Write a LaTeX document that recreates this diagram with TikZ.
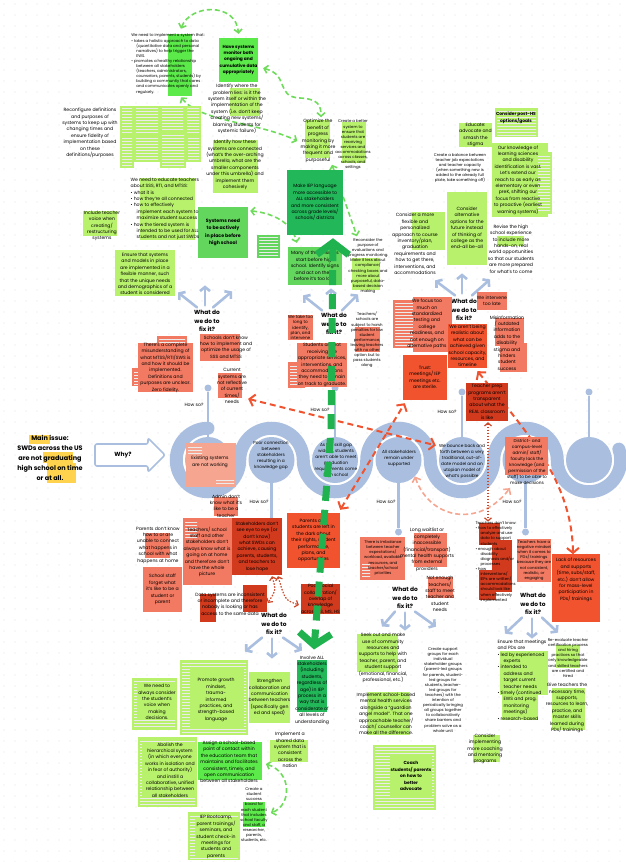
\documentclass[tikz,border=0pt]{standalone}
\usepackage{fontspec}
\setmainfont{Poppins}
\usetikzlibrary{arrows.meta,calc,patterns}

\definecolor{cLeaf}{HTML}{B8F26C}
\definecolor{cLime}{HTML}{5CE94A}
\definecolor{cMoss}{HTML}{63D65E}
\definecolor{cPine}{HTML}{22B85A}
\definecolor{cSalmon}{HTML}{F27A62}
\definecolor{cCoral}{HTML}{F1532F}
\definecolor{cBrick}{HTML}{D23A1E}
\definecolor{cBlush}{HTML}{F5A590}
\definecolor{cBand}{HTML}{AABFDF}
\definecolor{cSun}{HTML}{FFD34D}
\definecolor{cDashG}{HTML}{6EDC5A}
\definecolor{cBigG}{HTML}{1FB24E}
\definecolor{cDashR}{HTML}{F0532F}
\definecolor{cDot}{HTML}{E2E2E2}

\newcommand\tinyf{\fontsize{3.9}{5.1}\selectfont}
\newcommand\notef{\fontsize{4.6}{6.4}\selectfont}
\newcommand\headf{\fontsize{4.4}{6.4}\selectfont\bfseries}
\newcommand\fixf{\fontsize{5.9}{8.2}\selectfont\bfseries}
\newcommand\mainf{\fontsize{6.5}{10}\selectfont\bfseries}

\pgfdeclarelayer{bg}
\pgfdeclarelayer{links}
\pgfdeclarelayer{front}
\pgfsetlayers{bg,links,main,front}

\def\patch#1#2#3#4#5{
  % 1: colour
  % 2,3: left, top
  % 4,5: right, bottom
  \fill[#1] (#2,#3) rectangle (#4,#5);
}
\def\scrap#1#2#3#4#5{
  % same as \patch, for notes too small to read
  \fill[#1] (#2,#3) rectangle (#4,#5);
  \fill[pattern=horizontal lines, pattern color=black!8] ($(#2,#3)+(2,2)$) rectangle ($(#4,#5)+(-2,-2)$);
}
\def\bul{\textbullet\ }

\begin{document}
\begin{tikzpicture}[x=1pt,y=-1pt,
    note/.style={fill=#1, inner sep=0pt, align=center, font=\notef},
    txt/.style={inner sep=0pt, align=center, font=\notef},
    mini/.style={inner sep=0pt, align=center, font=\tinyf},
    fixit/.style={inner sep=0pt, align=center, font=\fixf},
    howso/.style={inner sep=0pt, font=\notef},
    hub/.style={circle, fill=cBand, minimum size=46pt, inner sep=0pt},
    knob/.style={circle, fill=cBand, minimum size=7pt, inner sep=0pt},
    stem/.style={draw=cBand, line width=2.8pt},
    fan/.style={draw=cBand, line width=2.6pt, line cap=round, -{Straight Barb[length=4pt,width=10pt]}},
    gdash/.style={draw=cDashG, line width=1.6pt, dash pattern=on 5pt off 3pt,
      {Straight Barb[length=3.5pt,width=8pt]}-{Straight Barb[length=3.5pt,width=8pt]}},
    rdash/.style={draw=cDashR, line width=2pt, dash pattern=on 6pt off 4pt,
      {Straight Barb[length=5pt,width=12pt]}-{Straight Barb[length=5pt,width=12pt]}},
    pdash/.style={draw=cBlush, line width=1.6pt, dash pattern=on 5pt off 3pt,
      {Straight Barb[length=4pt,width=9pt]}-{Straight Barb[length=4pt,width=9pt]}},
    rdot/.style={draw=cDashR!85!black, line width=1.2pt, dash pattern=on 1.5pt off 1.5pt,
      {Straight Barb[length=3pt,width=7pt]}-{Straight Barb[length=3pt,width=7pt]}},
    bigdash/.style={draw=cBigG, line width=7pt, dash pattern=on 15pt off 9pt,
      {Straight Barb[length=12pt,width=32pt]}-{Straight Barb[length=12pt,width=32pt]}}
  ]
  \useasboundingbox (0,0) rectangle (625,862);
  \begin{pgfonlayer}{bg}
  \fill[white] (0,0) rectangle (625,862);
  \foreach \gx in {4,15,...,625}{\foreach \gy in {4,15,...,862}{\fill[cDot] (\gx,\gy) circle (0.55);}}

  % the snake and its stops
  \draw[cBand, line width=13pt, line cap=round]
    (208,428.25) arc[start angle=270, end angle=0, radius=31.75]
    arc[start angle=180, end angle=360, radius=31.75]
    arc[start angle=180, end angle=0, radius=31.75]
    arc[start angle=180, end angle=360, radius=31.75]
    arc[start angle=180, end angle=0, radius=31.75]
    arc[start angle=180, end angle=360, radius=31.75]
    arc[start angle=180, end angle=-20, radius=31.75];
  \foreach \n/\cx in {1/208,2/271.5,3/335,4/398.5,5/462,6/525.5,7/589}
    \node[hub] (C\n) at (\cx,460) {};

  \node[knob] (k1) at (208,388) {};   \draw[stem] (C1) -- (k1);
  \node[knob] (k3) at (335,388) {};   \draw[stem] (C3) -- (k3);
  \node[knob] (k5) at (462,392) {};   \draw[stem] (C5) -- (k5);
  \node[knob] (k7) at (589,392) {};   \draw[stem] (C7) -- (k7);
  \node[knob] (k2) at (271.5,533) {}; \draw[stem] (C2) -- (k2);
  \node[knob] (k4) at (398.5,532) {}; \draw[stem] (C4) -- (k4);
  \node[knob] (k6) at (525.5,532) {}; \draw[stem] (C6) -- (k6);
  \end{pgfonlayer}

  \node[howso] (hs1) at (194,405) {How so?};
  \node[howso] (hs3) at (320,410) {How so?};
  \node[howso] (hs5) at (447,412) {How so?};
  \node[howso] (hs2) at (259,502) {How so?};
  \node[howso] (hs4) at (386,502) {How so?};
  \node[howso] (hs6) at (512,502) {How so?};

  % what do we do to fix it?
  \node[fixit] (fix1) at (207,321) {What do\\we do to\\fix it?};
  \node[fixit] (fix2) at (334,324) {What do\\we do to\\fix it?};
  \node[fixit] (fix3) at (464,310) {What do\\we do to\\fix it?};
  \node[fixit] (fix4) at (274,624) {What do\\we do to\\fix it?};
  \node[fixit] (fix5) at (405,598) {What do\\we do to\\fix it?};
  \node[fixit] (fix6) at (533,604) {What do\\we do to\\fix it?};
  \draw[fan] ($(fix1.north)+(-10,-3)$) -- ++(-19,-15);
  \draw[fan] ($(fix1.north)+(-2,-5)$) -- ++(0,-20);
  \draw[fan] ($(fix1.north)+(6,-3)$) -- ++(19,-16);
  \draw[fan] ($(fix2.north)+(-12,-3)$) -- ++(-19,-15);
  \draw[fan] ($(fix2.north)+(-3,-5)$) -- ++(0,-20);
  \draw[fan] ($(fix2.north)+(8,-3)$) -- ++(16,-16);
  \draw[fan] ($(fix3.north)+(-9,-4)$) -- ++(-20,-15);
  \draw[fan] ($(fix3.north)+(-2,-6)$) -- ++(0,-20);
  \draw[fan] ($(fix3.north)+(8,-4)$) -- ++(18,-16);
  \draw[fan] ($(fix4.south)+(-12,3)$) -- ++(-17,14);
  \draw[fan] ($(fix4.south)+(-2,4)$) -- ++(0,20);
  \draw[fan] ($(fix4.south)+(9,3)$) -- ++(19,13);
  \draw[fan] ($(fix5.south)+(-10,3)$) -- ++(-13,15);
  \draw[fan] ($(fix5.south)+(0,4)$) -- ++(0,18);
  \draw[fan] ($(fix5.south)+(10,3)$) -- ++(21,15);
  \draw[fan] ($(fix6.south)+(-11,3)$) -- ++(-17,16);
  \draw[fan] ($(fix6.south)+(-1,4)$) -- ++(0,20);
  \draw[fan] ($(fix6.south)+(9,3)$) -- ++(16,15);

  % main issue
  \patch{cSun}{29}{435}{50}{444}
  \patch{cSun}{43}{452}{73}{463}
  \patch{cSun}{47}{463}{76}{483}
  \node[inner sep=0pt, align=center, font=\mainf] (mainissue) at (50,458)
    {Main issue:\\SWDs across the US\\are not graduating\\high school on time\\or at all.};
  \draw[cBand, line width=1.6pt, fill=white, rounded corners=2pt]
    (95,444) -- (148,444) -- (148,438) -- (165,455) -- (148,472) -- (148,466) -- (95,466) -- cycle;
  \node[font=\fixf, inner sep=0pt] (why) at (123,455) {Why?};

  % top: green solution notes
  \patch{cLime}{168}{34}{192}{96}
  \node[mini, align=left] (sysT1) at (168,64)
    {We need to implement a system that:\\
     \bul takes a holistic approach to data\\
     \hspace*{5pt}(quantitative data and personal\\
     \hspace*{5pt}narratives) to help trigger the\\
     \hspace*{5pt}EWS.\\
     \bul promotes a healthy relationship\\
     \hspace*{5pt}between all stakeholders\\
     \hspace*{5pt}(teachers, administrators,\\
     \hspace*{5pt}counselors, parents, students) by\\
     \hspace*{5pt}building a community that cares\\
     \hspace*{5pt}and communicates openly and\\
     \hspace*{5pt}regularly.};
  \node[note=cLime, font=\headf, minimum width=39pt, minimum height=44pt] (monitor) at (238.5,60)
    {Have systems\\monitor both\\ongoing and\\cumulative data\\appropriately};
  \patch{cLeaf}{230}{88}{260}{116}
  \node[txt] (rootcause) at (237,109)
    {Identify where the\\problem lies: is it the\\system itself or within the\\implementation of the\\system (i.e. don't keep\\creating new systems/\\blaming students for\\systemic failure)};
  \patch{cLeaf}{213}{140}{258}{193}
  \node[txt] (umbrella) at (235,165)
    {Identify how these\\systems are connected\\(what's the over-arching\\umbrella, what are the\\smaller components\\under this umbrella) and\\implement them\\cohesively};
  \patch{cLeaf}{305}{120}{330}{158}
  \node[txt] (optim) at (318,141)
    {Optimize the\\benefit of\\progress\\monitoring by\\making it more\\frequent and\\purposeful};
  \patch{cLeaf}{342}{122}{366}{163}
  \node[mini] (services) at (353,145)
    {Create a better\\system to\\ensure that\\students are\\receiving\\services and\\accommodations\\across classes,\\schools, and\\settings};
  \node[note=cPine, minimum width=56pt, minimum height=65pt] (iep) at (315,202.5)
    {Make IEP language\\more accessible to\\ALL stakeholders\\and more consistent\\across grade levels/\\schools/ districts};
  \node[note=cMoss, font=\fontsize{4.7}{7.3}\selectfont\bfseries, minimum width=50pt, minimum height=51pt] (actively) at (223,232.5)
    {Systems need\\to be actively\\in place before\\high school};
  \scrap{cMoss}{257}{235}{280}{258}
  \node[note=cMoss, minimum width=54pt, minimum height=38pt] (early) at (315,266)
    {Many of these issues\\start before high\\school. Identify signs\\and act on them\\before it's too late.};
  \patch{cLeaf}{352}{258}{380}{290}
  \node[mini] (reconsider) at (368,266)
    {Reconsider the\\purpose of\\evaluations and\\progress monitoring.\\Make it less about\\compliance/\\checking boxes and\\more about\\purposeful, data-\\based decision\\making};

  \node[txt] (redefine) at (90,133)
    {Reconfigure definitions\\and purposes of\\systems to keep up with\\changing times and\\ensure fidelity of\\implementation based\\on these\\definitions/purposes};
  \scrap{cLeaf}{120}{106}{134}{136}
  \scrap{cLeaf}{134}{106}{160}{134}
  \scrap{cLeaf}{160}{106}{185}{131}
  \scrap{cLeaf}{185}{106}{201}{136}
  \scrap{cLeaf}{120}{136}{134}{168}
  \scrap{cLeaf}{134}{134}{160}{162}
  \scrap{cLeaf}{160}{131}{186}{168}
  \scrap{cLeaf}{186}{136}{201}{162}
  \patch{cLeaf}{140}{178}{195}{240}
  \node[txt, align=left] (educate) at (165,209)
    {We need to educate teachers\\about SSS, RTI, and MTSS:\\
     \bul what it is\\
     \bul how they're all connected\\
     \bul how to effectively\\
     \hspace*{6pt}implement each system to\\
     \hspace*{6pt}maximize student success\\
     \bul how the tiered system is\\
     \hspace*{6pt}intended to be used for ALL\\
     \hspace*{6pt}students and not just SWDs};
  \patch{cLeaf}{83}{211}{117}{236}
  \node[txt] (voice) at (102,226) {Include teacher\\voice when\\creating/\\restructuring\\systems};
  \patch{cLeaf}{115}{250}{175}{296}
  \node[txt] (flexible) at (145,274)
    {Ensure that systems\\and models in place\\are implemented in a\\flexible manner, such\\that the unique needs\\and demographics of a\\student is considered};

  \scrap{cLeaf}{495}{108}{538}{137}
  \node[txt, font=\headf] (posths) at (516,118) {Consider post-HS\\options/goals};
  \node[note=cLeaf, minimum width=31pt, minimum height=24pt] (stigma) at (475.5,135)
    {Educate:\\advocate and\\smash the\\stigma};
  \patch{cLeaf}{492}{143}{548}{217}
  \scrap{cLeaf}{536}{152}{552}{214}
  \node[txt] (sciences) at (518,180)
    {Our knowledge of\\learning sciences\\and disability\\identification is vast.\\Let's extend our\\reach to as early as\\elementary or even\\preK, shifting our\\focus from reactive\\to proactive (earliest\\warning systems)};
  \node[mini] (balance) at (460,168)
    {Create a balance between\\teacher job expectations\\and teacher capacity\\(when something new is\\added to the already full\\plate, take something off)};
  \patch{cLeaf}{447}{192}{487}{265}
  \node[txt] (altpaths) at (467,228)
    {Consider\\alternative\\options for the\\future instead\\of thinking of\\college as the\\end-all be-all};
  \patch{cLeaf}{412}{212}{445}{250}
  \node[txt] (course) at (415,244)
    {Consider a more\\flexible and\\personalized\\approach to course\\inventory/plan,\\graduation\\requirements and\\how to get there,\\interventions, and\\accommodations};
  \patch{cLeaf}{497}{236}{524}{246}
  \node[txt] (handson) at (511,249)
    {Revise the high\\school experience\\to include more\\hands-on, real\\world opportunities\\so that our students\\are more prepared\\for what's to come};

  % red problem notes
  \scrap{cSalmon}{157}{336}{187}{346}
  \scrap{cSalmon}{132}{368}{148}{386}
  \node[note=cSalmon, minimum width=55pt, minimum height=49pt] (misread) at (165.5,367.5)
    {There's a complete\\misunderstanding of\\what MTSS/RTI/SWS is\\and how it should be\\implemented.\\Definitions and\\purposes are unclear.\\Zero fidelity.};
  \patch{cSalmon}{200}{334}{240}{361}
  \node[txt] (howto) at (226,347) {Schools don't know\\how to implement and\\optimize the usage of\\SSS and MTSS};
  \patch{cSalmon}{218}{373}{242}{398}
  \node[txt] (current) at (232,386) {Current\\systems are\\not reflective\\of current\\times/\\needs};
  \node[note=cSalmon, font=\fontsize{4.2}{5.2}\selectfont, minimum width=25pt, minimum height=25pt] (toolong) at (300.5,327.5)
    {We take too\\long to\\identify,\\plan, and\\intervene};
  \scrap{cSalmon}{288}{362}{305}{388}
  \node[note=cSalmon, minimum width=50pt, minimum height=38pt] (notreceiving) at (322,365)
    {Students are not\\receiving the\\appropriate services,\\interventions, and\\accommodations\\they need to remain\\on track to graduate.};
  \patch{cSalmon}{355}{327}{380}{352}
  \node[mini] (penalties) at (367,340)
    {Teachers/\\schools are\\subject to harsh\\penalties for low\\student\\performance,\\leaving teachers\\with no other\\option but to\\pass students\\along};
  \scrap{cSalmon}{393}{300}{415}{348}
  \patch{cSalmon}{413}{297}{452}{352}
  \node[txt] (testing) at (427,324)
    {We focus too\\much on\\standardized\\testing and\\college\\readiness, and\\not enough on\\alternative paths};
  \node[note=cCoral, minimum width=44pt, minimum height=45pt] (sterile) at (425,377.5)
    {Trust:\\meetings/ IEP\\meetings etc.\\are sterile.};
  \node[note=cSalmon, minimum width=27pt, minimum height=18pt] (toolate) at (492,301)
    {We intervene\\too late};
  \node[note=cCoral, minimum width=39pt, minimum height=44pt] (realistic) at (467.5,346)
    {We aren't being\\realistic about\\what can be\\achieved given\\school capacity,\\resources, and\\timeline};
  \patch{cSalmon}{495}{318}{524}{346}
  \patch{cSalmon}{500}{343}{527}{372}
  \node[txt] (misinfo) at (507,343)
    {Misinformation\\/ outdated\\information\\adds to the\\disability\\stigma and\\hinders\\student\\success};

  % the stops' own texts
  \patch{cBlush}{186}{443}{236}{487}
  \scrap{cBlush}{186}{443}{204}{455}
  \scrap{cBlush}{214}{476}{236}{487}
  \node[txt] (existing) at (210,462) {Existing systems\\are not working};
  \node[txt, font=\fontsize{4.3}{6}\selectfont] (gap) at (271,455)
    {Poor connection\\between\\stakeholders\\resulting in a\\knowledge gap};
  \node[txt, font=\fontsize{4.3}{6}\selectfont] (skillgap) at (336,460)
    {As the skill gap\\widens, students\\aren't able to meet\\graduation\\requirements come\\high school};
  \node[txt, font=\fontsize{4.3}{6}\selectfont] (undersup) at (399,458)
    {All stakeholders\\remain under\\supported};
  \node[txt, font=\fontsize{4.3}{6}\selectfont] (bounce) at (462,461)
    {We bounce back and\\forth between a very\\traditional, out-of-\\date model and an\\utopian model of\\what's possible};
  \patch{cSalmon}{505}{437}{548}{475}
  \node[txt, font=\fontsize{4.3}{6}\selectfont] (district) at (527,462)
    {District- and\\campus-level\\admin/ staff/\\faculty lack the\\knowledge (and\\permission of the\\staff) to be able to\\make decisions};

  % lower problem notes
  \patch{cSalmon}{214}{497}{238}{516}
  \node[txt] (admin) at (226,506) {Admin don't\\know what it's\\like to be a\\teacher};
  \patch{cSalmon}{183}{518}{232}{585}
  \scrap{cSalmon}{183}{518}{199}{540}
  \node[txt] (athome) at (207,552)
    {Teachers/ school\\staff and other\\stakeholders don't\\always know what is\\going on at home\\and therefore don't\\have the whole\\picture};
  \patch{cSalmon}{145}{533}{170}{558}
  \node[txt] (parentsconnect) at (158,545)
    {Parents don't know\\how to or are\\unable to connect\\what happens in\\school with what\\happens at home};
  \node[note=cSalmon, minimum width=39pt, minimum height=45pt] (forget) at (162.5,589.5)
    {School staff\\forget what\\it's like to be a\\student or\\parent};
  \patch{cBrick}{200}{594}{216}{622}
  \patch{cBrick}{243}{585}{267}{612}
  \node[txt] (datasys) at (230,604)
    {Data systems are inconsistent\\or incomplete and therefore\\nobody is looking or has\\access to the same data};
  \node[note=cBrick, minimum width=50pt, minimum height=57pt] (eyetoeye) at (257,546.5)
    {Stakeholders don't\\see eye to eye (or\\don't know)\\what SWDs can\\achieve, causing\\parents, students,\\and teachers to\\lose hope};
  \node[note=cCoral, minimum width=53pt, minimum height=55pt] (leftdark) at (313.5,540.5)
    {Parents and\\students are left in\\the dark about\\their rights, student\\performance,\\plans, and\\opportunities};
  \node[note=cBrick, minimum width=35pt, minimum height=28pt] (overlap) at (320.5,599)
    {Poor social\\collaboration/\\overlap of\\knowledge\\across SS, MS, HS};
  \patch{cSalmon}{360}{537}{405}{580}
  \scrap{cSalmon}{360}{562}{372}{580}
  \node[mini] (imbalance) at (383,558)
    {There is imbalance\\between teacher\\expectations/\\workload, available\\resources, and\\teacher/school\\priorities};
  \patch{cSalmon}{414}{533}{447}{567}
  \node[txt] (waitlist) at (427,550)
    {Long waitlist or\\completely\\inaccessible\\(financial/transport)\\mental health supports\\from external\\providers};
  \patch{cSalmon}{428}{577}{453}{598}
  \node[txt] (staffing) at (440,594)
    {Not enough\\teachers/\\staff to meet\\teacher and\\student\\needs};
  \patch{cBrick}{479}{523}{500}{545}
  \patch{cBrick}{492}{540}{512}{592}
  \patch{cBrick}{479}{570}{496}{600}
  \node[mini, align=left] (dontknow) at (496,562)
    {Teachers don't know:\\
     \bul how to effectively\\\hspace*{5pt}analyze and use\\\hspace*{5pt}data to support\\\hspace*{5pt}students\\
     \bul enough about\\\hspace*{5pt}disability\\\hspace*{5pt}diagnosis and/or\\\hspace*{5pt}processes\\
     \bul how\\\hspace*{5pt}interventions/\\\hspace*{5pt}IEPs are written/\\\hspace*{5pt}accommodations\\\hspace*{5pt}should look like\\\hspace*{5pt}when effectively\\\hspace*{5pt}implemented};
  \node[note=cSalmon, font=\tinyf, minimum width=34pt, minimum height=43pt] (mindset) at (534,560.5)
    {Teachers have a\\negative mindset\\when it comes to\\PDs/ trainings\\because they are\\not consistent,\\realistic, or\\engaging};
  \patch{cCoral}{552}{554}{600}{622}
  \node[txt] (lackres) at (576,580)
    {Lack of resources\\and supports\\(time, subs/staff,\\etc.) don't allow\\for mass-level\\participation in\\PDs/ trainings};
  \node[note=cBrick, minimum width=42pt, minimum height=38pt] (prep) at (487,402)
    {Teacher prep\\programs aren't\\transparent\\about what the\\REAL classroom\\is like};

  % lower green solution notes
  \patch{cLeaf}{357}{634}{398}{672}
  \node[txt] (community) at (383,658)
    {Seek out and make\\use of community\\resources and\\supports to help with\\teacher, parent, and\\student support\\(emotional, financial,\\professional, etc.)};
  \patch{cLeaf}{367}{692}{410}{735}
  \node[txt] (angel) at (386,714)
    {Implement school-based\\mental health services\\alongside a ``guardian\\angel model''. That one\\approachable teacher/\\coach/ counsellor can\\make all the difference.};
  \node[mini] (groups) at (443,690)
    {Create support\\groups for each\\individual\\stakeholder groups\\(parent-led groups\\for parents, student-\\led groups for\\students, teacher-\\led groups for\\teachers) with the\\intention of\\periodically bringing\\all groups together\\to collaboratively\\share barriers and\\problem solve as a\\whole unit};
  \patch{cLeaf}{500}{651}{548}{695}
  \patch{cLeaf}{502}{695}{538}{720}
  \node[txt, align=left] (meetings) at (522,680)
    {Ensure that meetings\\and PDs are\\
     \bul led by experienced\\\hspace*{6pt}experts\\
     \bul intended to\\\hspace*{6pt}address and\\\hspace*{6pt}target current\\\hspace*{6pt}teacher needs\\
     \bul timely (continued\\\hspace*{6pt}EWS and prog.\\\hspace*{6pt}monitoring\\\hspace*{6pt}meetings)\\
     \bul research-based};
  \patch{cLeaf}{556}{645}{580}{668}
  \node[mini] (certify) at (568,658)
    {Re-evaluate teacher\\certification process\\and hiring\\practices so that\\only knowledgeable\\and skilled teachers\\are certified and\\hired};
  \patch{cLeaf}{552}{688}{585}{730}
  \node[txt] (practice) at (567,708)
    {Give teachers the\\necessary time,\\supports,\\resources to learn,\\practice, and\\master skills\\learned during\\PDs/ trainings};
  \patch{cLeaf}{473}{735}{500}{762}
  \node[txt] (mentor) at (485,749)
    {Consider\\implementing\\more coaching\\and mentoring\\programs};
  \scrap{cLeaf}{373}{745}{436}{810}
  \patch{cLeaf}{390}{755}{432}{797}
  \node[txt, font=\headf] (advocate) at (411,776)
    {Coach\\students/ parents\\on how to\\better\\advocate};
  \patch{cPine}{297}{660}{327}{712}
  \node[txt] (involve) at (312,690)
    {Involve ALL\\stakeholders\\(including\\students,\\regardless of\\age) in IEP\\process in a\\way that is\\considerate of\\all levels of\\understanding};
  \node[note=cLeaf, minimum width=35pt, minimum height=51pt] (collab) at (269.5,697.5)
    {Strengthen\\collaboration and\\communication\\between teachers\\(specifically gen\\ed and sped)};
  \scrap{cLeaf}{180}{660}{248}{735}
  \patch{cLeaf}{190}{668}{244}{728}
  \node[txt] (mindsetG) at (216,700)
    {Promote growth\\mindset,\\trauma-\\informed\\practices, and\\strength-based\\language};
  \scrap{cLeaf}{132}{678}{177}{730}
  \patch{cLeaf}{137}{684}{175}{720}
  \node[txt] (studentvoice) at (157,702)
    {We need to\\always consider\\the student's\\voice when\\making\\decisions.};
  \scrap{cLeaf}{138}{737}{197}{807}
  \patch{cLeaf}{142}{742}{195}{798}
  \node[txt] (hierarchy) at (170,770)
    {Abolish the\\hierarchical system\\(in which everyone\\works in isolation and\\in fear of authority)\\and instill a\\collaborative, unified\\relationship between\\all stakeholders};
  \patch{cLime}{198}{742}{262}{780}
  \node[txt] (contact) at (229,762)
    {Assign a school-based\\point of contact within\\the education team that\\maintains and facilitates\\consistent, timely, and\\open communication\\between all stakeholders};
  \patch{cLeaf}{270}{740}{308}{762}
  \node[txt] (shareddata) at (290,750)
    {Implement a\\shared data\\system that is\\consistent\\across the\\nation};
  \patch{cLime}{243}{802}{265}{827}
  \node[mini] (board) at (254,815)
    {Create a\\student\\success\\board for\\each student\\that includes\\school faculty\\and staff, a\\researcher,\\parents,\\students, etc.};
  \scrap{cLeaf}{188}{812}{240}{860}
  \patch{cLeaf}{195}{818}{238}{856}
  \node[txt] (bootcamp) at (216,837)
    {IEP Bootcamp,\\parent trainings/\\seminars, and\\student check-in\\meetings for\\students and\\parents};

  % dashed links, under the notes
  \begin{pgfonlayer}{links}
  \draw[gdash] ($(sysT1.north)+(13,-5)$) .. controls (190,4) and (236,2) .. ($(monitor.north)+(0,-4)$);
  \draw[gdash] ($(sysT1.south)+(13,3)$) .. controls (200,122) and (258,122) .. ($(optim.west)+(-3,0)$);
  \draw[gdash] ($(monitor.south east)+(5,-14)$) .. controls (290,75) and (275,97) .. (300,98)
    .. controls (318,99) and (321,105) .. ($(optim.north)+(3,-2)$);
  \draw[gdash] ($(optim.south)+(14,2)$) -- ($(reconsider.north)+(-11,-2)$);
  \draw[gdash] ($(actively.north east)+(2,4)$) .. controls (272,213) and (292,222) .. ($(early.north west)+(9,-4)$);
  \draw[rdash] ($(current.south east)+(1,-5)$) -- ($(C5.150)+(-6,-3)$);
  \draw[pdash] (C4.-45) .. controls (430,520) and (480,528) .. ($(C6.240)+(-4,8)$);
  \draw[rdash] ($(leftdark.north east)+(0,-3)$) -- ($(sterile.south west)+(2,3)$);
  \draw[rdash] ($(realistic.south)+(10,3)$) .. controls (525,430) and (572,480) .. ($(lackres.north)+(-3,-4)$);
  \draw[rdot] ($(prep.south)+(1,1)$) -- ($(dontknow.north)+(-8,0)$);
  \draw[rdot] ($(eyetoeye.south)+(15,1)$) .. controls (276,590) .. ($(datasys.east)+(3,-1)$);
  \draw[rdot] ($(eyetoeye.south)+(21,1)$) .. controls (285,600) .. ($(overlap.west)+(-2,6)$);
  \draw[gdash] ($(contact.east)+(8,2)$) .. controls (292,772) and (292,805) .. ($(board.east)+(3,-2)$);
  \end{pgfonlayer}
  \begin{pgfonlayer}{front}
  \draw[bigdash] ($(iep.south)+(18,3)$) -- (331,430) -- ($(involve.north)+(2,-6)$);
  \end{pgfonlayer}
\end{tikzpicture}
\end{document}
